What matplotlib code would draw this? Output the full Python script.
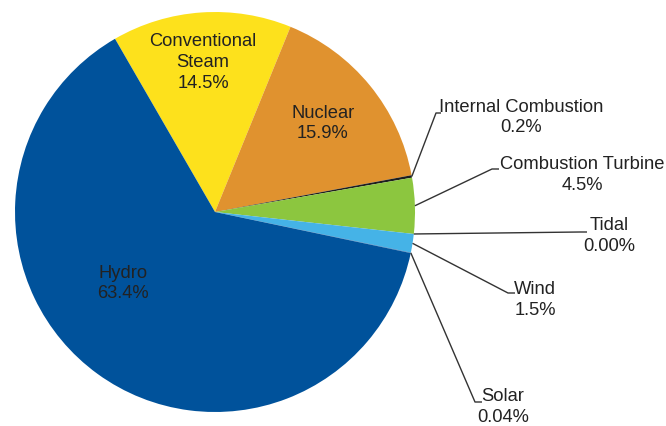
import numpy as np
import matplotlib.pyplot as plt

plt.rcParams['font.family'] = ['Liberation Sans', 'DejaVu Sans']

# generation mix by prime mover, clockwise from the top
sources = ['Conventional\nSteam', 'Nuclear', 'Internal Combustion', 'Combustion Turbine',
           'Tidal', 'Wind', 'Solar', 'Hydro']
shares = [14.5, 15.9, 0.2, 4.5, 0.0, 1.5, 0.04, 63.4]
pct_text = ['14.5%', '15.9%', '0.2%', '4.5%', '0.00%', '1.5%', '0.04%', '63.4%']
colors = ['#FDE11C', '#E0922F', '#1E1E1E', '#8CC63F', '#FFFFFF', '#45B3E7', '#2F6FB0', '#00529B']

W, H = 666, 426
fig = plt.figure(figsize=(W / 100, H / 100), dpi=100)
ax = fig.add_axes([0, 0, 1, 1])

cx, cy, R = 215, H - 212, 200
wedges, _ = ax.pie(shares, colors=colors, startangle=120, counterclock=False,
                   center=(cx, cy), radius=R, wedgeprops=dict(linewidth=0))
ax.set_xlim(0, W)
ax.set_ylim(0, H)
ax.set_aspect('equal')
ax.axis('off')

FS = 13.2
LS = 1.28

# labels inside the big slices (pixel positions, y from top)
inside = {0: (203, 62.5), 1: (323, 123.5), 7: (123, 283.5)}
for i, (x, y) in inside.items():
    ax.text(x, H - y, sources[i] + '\n' + pct_text[i], ha='center', va='center',
            fontsize=FS, color='#222222', linespacing=LS)

# small slices get leader lines: elbow point, end point, label centre
outside = {
    2: ((436, 113), (441, 113), (521, 117.5)),
    3: ((492, 169), (499, 169), (582, 175)),
    4: ((580, 232), (587, 232), (609, 236)),
    5: ((508, 293), (515, 293), (535, 300)),
    6: ((475, 402), (482, 402), (503, 407)),
}
for i, (elbow, end, lab) in outside.items():
    w = wedges[i]
    mid = np.deg2rad((w.theta1 + w.theta2) / 2)
    ax0 = cx + R * np.cos(mid)
    ay0 = cy + R * np.sin(mid)
    ax.plot([ax0, elbow[0], end[0]], [ay0, H - elbow[1], H - end[1]],
            color='#333333', lw=1.0, solid_capstyle='butt')
    ax.text(lab[0], H - lab[1], sources[i] + '\n' + pct_text[i], ha='center',
            va='center', fontsize=FS, color='#222222', linespacing=LS)

fig.savefig('out.png', dpi=100)
